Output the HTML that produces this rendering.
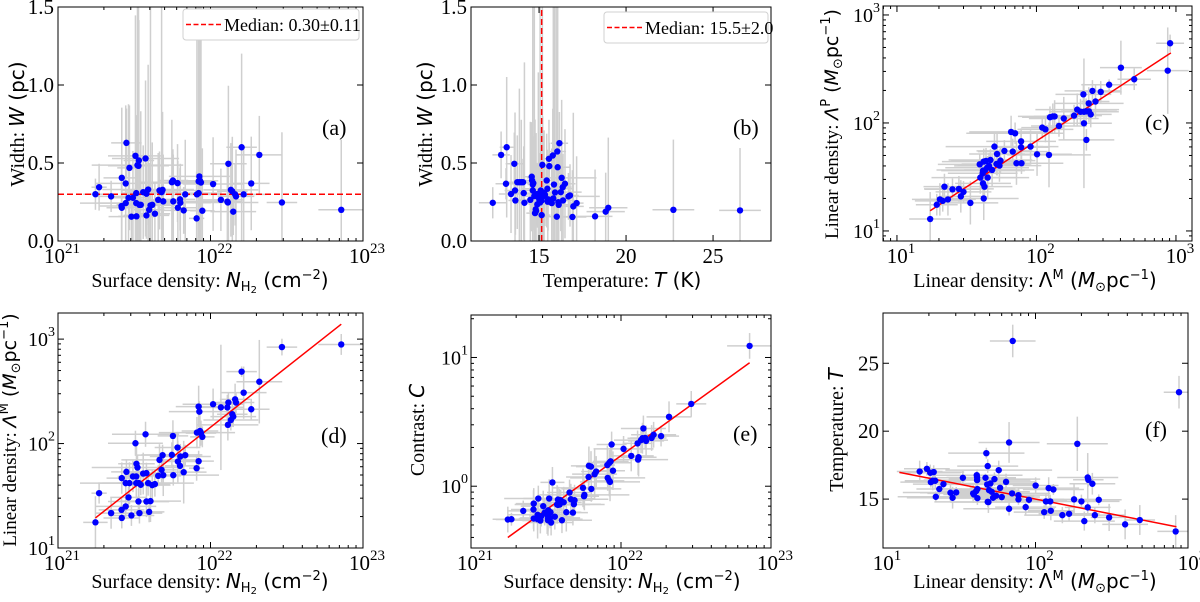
<!DOCTYPE html>
<html><head><meta charset="utf-8">
<style>
html,body{margin:0;padding:0;background:#fff;}
svg{display:block;}
text{font-family:"Liberation Serif",serif;fill:#000;}
.m{font-family:"DejaVu Sans","Liberation Sans",sans-serif;}
</style></head>
<body>
<svg id="fig" width="1200" height="602" viewBox="0 0 1200 602" xmlns="http://www.w3.org/2000/svg"></svg>
<script>
// ---------- shared data (surface density in 1e21 cm^-2) ----------
const nH2 = [1.76,1.86,2.23,2.62,2.61,2.62,2.78,2.81,2.78,2.90,2.94,3.03,3.10,3.22,3.26,3.26,3.27,3.32,3.39,3.42,3.37,3.49,3.62,3.75,3.80,3.80,3.90,3.96,4.04,4.15,4.32,4.54,4.63,4.78,4.85,4.90,5.58,5.67,5.70,6.08,6.11,6.31,6.34,6.67,6.83,8.11,8.15,8.36,8.36,8.45,8.53,8.66,8.84,10.4,11.7,12.9,13.1,13.0,13.6,13.9,14.1,14.5,14.7,16.0,16.5,18.5,20.9,29.4,72.0];
// panel (a) widths
const widthA = [0.30,0.345,0.286,0.405,0.224,0.213,0.369,0.629,0.243,0.277,0.469,0.156,0.277,0.546,0.307,0.243,0.158,0.486,0.516,0.232,0.482,0.232,0.313,0.529,0.303,0.164,0.330,0.200,0.228,0.232,0.175,0.264,0.324,0.313,0.328,0.254,0.377,0.388,0.254,0.371,0.213,0.267,0.245,0.196,0.299,0.145,0.299,0.382,0.307,0.414,0.386,0.375,0.194,0.365,0.264,0.252,0.495,0.247,0.328,0.318,0.188,0.299,0.286,0.601,0.299,0.369,0.552,0.247,0.200];
// panel (d) linear density (Msun/pc)
const lmD = [17.6,33.5,21.6,19.4,23.2,46.7,25.0,53.6,41.8,30.5,41.8,20.5,48.4,100.7,48.4,41.8,64.0,59.0,41.8,21.6,27.9,40.3,51.6,122.7,52.1,27.9,41.8,22.2,28.1,40.0,40.9,49.1,69.8,56.0,77.4,49.8,78.0,118.3,49.8,91.6,67.3,61.2,75.2,53.2,77.4,58.1,127.4,67.8,226,202,132,126,116,238,222,222,247,151,168,191,181,265,247,488,307,213,391,839,889];
// panel (e) contrast
const contrastE = [0.551,0.554,0.643,0.733,0.659,0.561,0.60,0.802,0.554,0.541,0.585,0.70,0.624,0.602,0.561,0.544,0.65,0.802,0.628,0.522,0.567,1.07,0.58,0.721,0.716,0.787,0.721,0.778,0.544,0.75,0.628,0.893,0.792,0.624,0.725,0.778,0.971,0.836,0.857,1.18,1.44,1.42,0.953,1.24,1.30,1.46,1.16,1.10,1.52,1.08,1.56,2.11,1.32,1.95,1.72,2.15,1.68,1.61,2.28,2.36,2.81,2.37,2.25,2.37,2.51,2.45,3.46,4.36,12.3];
// panel (b)
const tempB = [12.34,12.82,13.10,13.14,13.39,13.58,13.62,13.64,13.75,13.87,13.98,14.08,14.12,14.16,14.50,14.58,14.60,14.64,14.64,14.67,14.73,14.77,14.81,14.83,14.89,14.90,14.96,15.02,15.06,15.10,15.13,15.15,15.15,15.19,15.21,15.25,15.29,15.34,15.44,15.48,15.50,15.52,15.57,15.59,15.73,15.79,15.82,15.86,15.92,16.02,16.05,16.07,16.11,16.13,16.17,16.25,16.30,16.36,16.38,16.49,16.69,16.78,16.92,16.97,17.16,18.22,18.83,18.98,22.72,26.55];
const widthB = [0.245,0.552,0.367,0.601,0.301,0.495,0.324,0.260,0.377,0.377,0.377,0.377,0.307,0.245,0.264,0.412,0.388,0.362,0.324,0.371,0.288,0.179,0.203,0.192,0.301,0.235,0.281,0.264,0.247,0.324,0.303,0.260,0.166,0.488,0.299,0.288,0.309,0.296,0.388,0.335,0.252,0.267,0.527,0.480,0.243,0.548,0.273,0.362,0.311,0.156,0.574,0.473,0.249,0.232,0.627,0.313,0.405,0.345,0.260,0.367,0.286,0.292,0.154,0.222,0.243,0.158,0.188,0.213,0.200,0.196];
const medianW = 0.30, medianT = 15.15;
// panel (c)
const lmC = [17.3,19.3,20.3,21.3,21.9,23.2,25.0,27.8,28.7,30.0,33.6,39.2,39.6,41.2,41.4,41.4,41.9,41.9,42.4,43.0,43.5,44.3,44.7,45.7,46.8,48.1,50.0,51.7,52.2,54.3,55.2,58.9,65.8,67.6,70.3,71.9,77.6,77.6,78.1,90.7,101,110,116,123,125,131,135,145,157,186,196,207,217,219,219,227,228,237,238,245,252,265,289,332,403,502,873,908];
const lpC = [12.9,17.5,19.6,19.0,25.7,19.6,24.3,24.5,20.9,23.0,18.2,41.4,31.2,34.2,36.2,27.6,20.0,43.9,25.7,36.7,44.5,38.5,31.2,40.0,45.4,36.7,60.4,41.7,51.6,40.3,44.8,55.1,82.6,54.3,80.2,42.4,67.6,59.6,42.4,60.4,51.3,90.6,87.3,50.6,113,115,115,93.8,110,117,133,127,184,127,99.3,128,69.7,152,128,120,198,158,194,226,325,254,305,547];
// panel (f)
const lmF = [17.4,19.4,20.4,20.6,21.2,21.5,22.0,22.2,23.4,24.9,27.7,28.6,30.2,33.4,39.0,39.4,40.8,41.2,41.4,41.4,41.6,41.6,47.0,47.6,48.2,48.6,48.6,49.1,49.6,50.6,51.6,52.7,53.8,55.2,57.4,58.6,60.1,64.1,67.1,67.1,70.2,70.9,77.3,77.3,86.2,90.6,100.2,114,117,122,125,126,131,150,166,179,188,200,209,220,220,222,236,245,260,304,387,483,830,873];
const tempF = [17.03,17.23,16.94,16.25,16.35,16.99,16.35,15.17,15.74,16.10,15.47,15.10,15.49,16.57,15.42,15.34,15.59,16.76,16.59,16.40,15.74,15.07,16.57,18.38,16.08,17.43,14.80,14.78,15.66,16.15,15.54,15.10,16.47,15.25,17.13,15.83,15.15,16.27,14.29,19.17,15.42,26.64,15.29,14.98,14.41,14.95,16.00,14.04,14.83,15.81,14.83,14.14,15.71,13.82,13.92,14.98,19.07,14.83,13.38,14.39,16.59,16.42,16.13,13.82,14.95,13.65,13.14,13.46,12.62,22.87];
// fitted relations
const fitC = {slope:0.847, intercept:0.139, from:17.3, to:920};
const fitD = {slope:1.151, intercept:1.005, from:1.76, to:72};
const fitE = {slope:0.842, intercept:-0.605, from:1.76, to:72};
const fitF = {slope:-2.20, intercept:19.40, from:12.8, to:840};
// uncertainties
const nErrDex = [0.08,0.05,0.10,0.12,0.15,0.10,0.20,0.10,0.30,0.12,0.08,0.15,0.10,0.18,0.10,0.25,0.12,0.30,0.10,0.15,0.20,0.08,0.12,0.22,0.10,0.15,0.30,0.10,0.20,0.12,0.10,0.15,0.25,0.10,0.18,0.12,0.20,0.10,0.30,0.15,0.12,0.10,0.20,0.15,0.10,0.05,0.25,0.10,0.15,0.20,0.12,0.10,0.08,0.20,0.15,0.10,0.12,0.20,0.18,0.10,0.15,0.10,0.12,0.10,0.15,0.12,0.15,0.10,0.15];
const wErr = [0.10,0.15,0.10,0.45,0.25,0.20,0.50,0.22,0.30,0.60,0.40,0.15,0.30,0.90,0.50,0.35,0.20,1.20,0.90,0.30,1.50,0.60,0.30,0.50,0.20,0.15,0.80,0.30,1.30,0.40,0.20,0.30,0.25,1.40,0.50,0.30,0.40,0.20,0.30,0.25,0.30,0.20,0.25,0.15,0.35,0.30,1.50,1.60,1.50,1.60,1.50,1.20,0.40,0.30,0.20,0.25,0.50,0.20,0.30,0.35,0.15,0.20,0.30,0.60,0.30,0.30,0.25,0.45,0.45,0.40];
const tErr = [0.8,0.5,0.6,0.4,0.7,0.5,0.6,0.4,0.5,0.3,0.6,0.8,0.4,0.5,0.7,0.4,0.5,0.3,0.6,0.4,0.7,0.5,0.3,0.4,0.6,0.5,0.4,0.8,0.5,0.4,0.6,0.3,0.5,0.4,0.7,0.5,0.4,0.6,0.5,1.5,0.4,1.2,0.5,0.4,0.6,0.3,0.6,0.5,0.6,0.8,0.5,0.7,0.4,0.6,0.5,1.2,2.0,0.5,0.7,0.6,1.8,0.5,0.8,0.6,0.4,1.0,1.1,1.1,1.2,1.2];
const lmErrDex = [0.15,0.15,0.20,0.20,0.15,0.20,0.20,0.25,0.15,0.20,0.20,0.30,0.35,0.25,0.30,0.20,0.25,0.30,0.20,0.35,0.25,0.30,0.20,0.25,0.30,0.20,0.35,0.25,0.20,0.30,0.25,0.20,0.30,0.25,0.35,0.20,0.25,0.20,0.30,0.20,0.25,0.15,0.20,0.30,0.20,0.25,0.15,0.20,0.25,0.20,0.30,0.15,0.20,0.25,0.20,0.15,0.20,0.25,0.20,0.15,0.20,0.10,0.15,0.20,0.15,0.12,0.15,0.10,0.12,0.10];
const lpErrDex = [0.25,0.10,0.15,0.10,0.12,0.15,0.10,0.12,0.15,0.10,0.20,0.10,0.15,0.12,0.10,0.15,0.20,0.12,0.15,0.10,0.12,0.10,0.20,0.12,0.10,0.15,0.12,0.10,0.20,0.15,0.12,0.10,0.15,0.12,0.10,0.20,0.12,0.15,0.10,0.15,0.20,0.10,0.12,0.30,0.10,0.12,0.15,0.10,0.20,0.10,0.15,0.12,0.10,0.15,0.60,0.12,0.10,0.15,0.10,0.12,0.10,0.15,0.10,0.05,0.25,0.10,0.40,0.08];
const cErrDex = [0.10,0.05,0.08,0.12,0.15,0.10,0.12,0.10,0.15,0.10,0.08,0.12,0.10,0.15,0.10,0.12,0.10,0.15,0.12,0.10,0.08,0.12,0.10,0.15,0.12,0.10,0.12,0.08,0.10,0.12,0.15,0.10,0.12,0.10,0.08,0.12,0.15,0.10,0.12,0.10,0.15,0.12,0.10,0.20,0.12,0.15,0.10,0.12,0.10,0.15,0.12,0.10,0.15,0.10,0.12,0.10,0.15,0.12,0.10,0.12,0.10,0.08,0.12,0.10,0.10,0.08,0.12,0.10,0.10];

const NS='http://www.w3.org/2000/svg';
const fig=document.getElementById('fig');
function mk(tag,attrs,parent){const e=document.createElementNS(NS,tag);for(const k in attrs)e.setAttribute(k,attrs[k]);(parent||fig).appendChild(e);return e;}
const lg=Math.log10;

function scale(type,d0,d1,p0,p1){
  if(type==='log') return v=>p0+(lg(v)-d0)/(d1-d0)*(p1-p0);
  return v=>p0+(v-d0)/(d1-d0)*(p1-p0);
}

function makePanel(cfg){
  const g=mk('g',{});
  
  
  const [x0,x1]=cfg.px, [y0,y1]=cfg.py;
  const sx=scale(cfg.xt,cfg.xd[0],cfg.xd[1],x0,x1);
  const sy=scale(cfg.yt,cfg.yd[0],cfg.yd[1],y0,y1);
  const clip=mk('clipPath',{id:'clip'+cfg.id},g);
  mk('rect',{x:x0,y:y1,width:x1-x0,height:y0-y1},clip);
  const plot=mk('g',{'clip-path':'url(#clip'+cfg.id+')'},g);
  
  
  return {g,plot,sx,sy,x0,x1,y0,y1,cfg};
}

function ticks(P){
  const {g,sx,sy,x0,x1,y0,y1,cfg}=P;
  const tg=mk('g',{stroke:'#000','stroke-width':1},g);
  
  
  function axisTicks(type,dom,isX){
    const maj=[],min=[];
    if(type==='log'){
      for(let e=Math.floor(dom[0]);e<=Math.ceil(dom[1]);e++){
        if(e>=dom[0]-1e-6&&e<=dom[1]+1e-6)maj.push(Math.pow(10,e));
        for(let k=2;k<10;k++){const v=k*Math.pow(10,e);const l=lg(v);if(l>=dom[0]&&l<=dom[1])min.push(v);}
      }
    } else {
      for(const v of (isX?cfg.xMaj:cfg.yMaj))maj.push(v);
    }
    return {maj,min};
  }
  const xt=axisTicks(cfg.xt,cfg.xd,true), yt=axisTicks(cfg.yt,cfg.yd,false);
  xt.maj.forEach(v=>{const x=sx(v);mk('line',{x1:x,x2:x,y1:y0,y2:y0-6},tg);mk('line',{x1:x,x2:x,y1:y1,y2:y1+6},tg);});
  xt.min.forEach(v=>{const x=sx(v);mk('line',{x1:x,x2:x,y1:y0,y2:y0-3},tg);mk('line',{x1:x,x2:x,y1:y1,y2:y1+3},tg);});
  yt.maj.forEach(v=>{const y=sy(v);mk('line',{x1:x0,x2:x0+6,y1:y,y2:y},tg);mk('line',{x1:x1,x2:x1-6,y1:y,y2:y},tg);});
  yt.min.forEach(v=>{const y=sy(v);mk('line',{x1:x0,x2:x0+3,y1:y,y2:y},tg);mk('line',{x1:x1,x2:x1-3,y1:y,y2:y},tg);});
  xt.maj.forEach(v=>{
    const x=sx(v);
    const t=mk('text',{x:x,y:y0+22,'font-size':21,'text-anchor':'middle'},g);
    
    
    if(cfg.xt==='log'){t.setAttribute('x',x+4);t.textContent='10';const s=mk('tspan',{dy:-10,'font-size':15},t);s.textContent=String(Math.round(lg(v))+(cfg.xOff||0));}
    else t.textContent=cfg.xFmt(v);
  });
  yt.maj.forEach(v=>{
    const y=sy(v);
    const t=mk('text',{x:x0-4,y:y+7,'font-size':21,'text-anchor':'end'},g);
    
    
    if(cfg.yt==='log'){t.setAttribute('x',x0-3);t.setAttribute('font-size',20);t.textContent='10';const s=mk('tspan',{dy:-10,'font-size':14},t);s.textContent=String(Math.round(lg(v)));}
    else t.textContent=cfg.yFmt(v);
  });
  const fr=mk('rect',{x:x0,y:y1,width:x1-x0,height:y0-y1,fill:'none',stroke:'#000','stroke-width':1},g);
  
  
}

function errBars(P,xs,ys,xe,ye,xLogErr,yLogErr){
  const {plot,sx,sy}=P;
  const eg=mk('g',{stroke:'#cfcfcf','stroke-width':1.5},plot);
  
  
  for(let i=0;i<xs.length;i++){
    const x=xs[i],y=ys[i];const ex=xe[i]!==undefined?xe[i]:0.1, ey=ye[i]!==undefined?ye[i]:0.1;
    const xa=xLogErr?x/Math.pow(10,ex):x-ex, xb=xLogErr?x*Math.pow(10,ex):x+ex;
    const ya=yLogErr?y/Math.pow(10,ey):y-ey, yb=yLogErr?y*Math.pow(10,ey):y+ey;
    mk('line',{x1:sx(xa),x2:sx(xb),y1:sy(y),y2:sy(y)},eg);
    mk('line',{x1:sx(x),x2:sx(x),y1:sy(Math.max(ya,1e-9)),y2:sy(yb)},eg);
  }
}
function points(P,xs,ys){
  const {plot,sx,sy}=P;
  const pg=mk('g',{fill:'#0000ff'},plot);
  
  
  for(let i=0;i<xs.length;i++){
    const c=mk('circle',{cx:sx(xs[i]),cy:sy(ys[i]),r:3.2},pg);
    
    
  }
}
function fitLine(P,f,logY){
  const {plot,sx,sy}=P;
  const ev=x=>{const lx=lg(x);return logY?Math.pow(10,f.intercept+f.slope*lx):f.intercept+f.slope*lx;};
  const l=mk('line',{x1:sx(f.from),y1:sy(ev(f.from)),x2:sx(f.to),y2:sy(ev(f.to)),stroke:'#ff0000','stroke-width':1.5},plot);
  
  
}
function panelLabel(P,txt,x,y){
  const t=mk('text',{x:x,y:y,'font-size':22},P.g);t.textContent=txt;
  
  
}
function label(P,html,x,y,rot,name,fs){
  const t=mk('text',{x:x,y:y,'font-size':fs||20,'text-anchor':'middle'},P.g);
  if(rot)t.setAttribute('transform','rotate(-90 '+x+' '+y+')');
  t.innerHTML=html;
  
  
}
function legend(P,x,y,w,txt){
  const lgG=mk('g',{},P.g);
  
  
  mk('rect',{x:x,y:y,width:w,height:31,rx:3,fill:'#fff',stroke:'#d0d0d0'},lgG);
  mk('line',{x1:x+3,x2:x+39,y1:y+15.5,y2:y+15.5,stroke:'#ff0000','stroke-width':1.5,'stroke-dasharray':'5,2.5'},lgG);
  const t=mk('text',{x:x+41,y:y+22,'font-size':18},lgG);t.textContent=txt;
}

const NLAB='Surface density: <tspan class="m" font-style="italic">N</tspan><tspan class="m" font-size="13" dy="4">H</tspan><tspan class="m" font-size="10" dy="2">2</tspan><tspan class="m" dy="-6"> (cm</tspan><tspan class="m" font-size="13" dy="-8">−2</tspan><tspan class="m" dy="8">)</tspan>';
const LMLAB='Linear density: <tspan class="m">Λ</tspan><tspan class="m" font-size="13" dy="-8">M</tspan><tspan class="m" dy="8"> (</tspan><tspan class="m" font-style="italic">M</tspan><tspan class="m" font-size="13" dy="4">⊙</tspan><tspan class="m" dy="-4">pc</tspan><tspan class="m" font-size="13" dy="-8">−1</tspan><tspan class="m" dy="8">)</tspan>';
const LPLAB=LMLAB.replace('>M</tspan><tspan class="m" dy="8"> (','>P</tspan><tspan class="m" dy="8"> (');
const LMLAB_Y=LMLAB.replace('<tspan class="m">Λ</tspan>','<tspan class="m" font-style="italic">Λ</tspan>');
const WLAB='Width: <tspan class="m" font-style="italic">W</tspan><tspan class="m"> (pc)</tspan>';

// ---------- panel (a) ----------
let P=makePanel({id:'a',xt:'log',xd:[0,2],px:[58,363],yt:'lin',yd:[0,1.5],py:[241,7],yMaj:[0,0.5,1.0,1.5],yFmt:v=>v.toFixed(1),xOff:21});
errBars(P,nH2,widthA,nErrDex,wErr,true,false);
{const l=mk('line',{x1:P.x0,x2:P.x1,y1:P.sy(medianW),y2:P.sy(medianW),stroke:'#ff0000','stroke-width':1.5,'stroke-dasharray':'6,3'},P.plot);

}
points(P,nH2,widthA);
ticks(P);legend(P,183,9,176,'Median: 0.30±0.11');
panelLabel(P,'(a)',322,135);
label(P,NLAB,210,287,false,'x-axis-title');
label(P,WLAB,24,124,true,'y-axis-title');

// ---------- panel (b) ----------
P=makePanel({id:'b',xt:'lin',xd:[11.09,28.33],px:[471,771],yt:'lin',yd:[0,1.5],py:[241,7],xMaj:[15,20,25],xFmt:v=>String(v),yMaj:[0,0.5,1.0,1.5],yFmt:v=>v.toFixed(1)});
errBars(P,tempB,widthB,tErr,wErr,false,false);
{const l=mk('line',{x1:P.sx(medianT),x2:P.sx(medianT),y1:P.y0,y2:P.y1,stroke:'#ff0000','stroke-width':1.5,'stroke-dasharray':'6,3'},P.plot);

}
points(P,tempB,widthB);
ticks(P);legend(P,604,12,164,'Median: 15.5±2.0');
panelLabel(P,'(b)',733,135);
label(P,'Temperature: <tspan class="m" font-style="italic">T</tspan><tspan class="m"> (K)</tspan>',622,287,false,'x-axis-title');
label(P,WLAB,432,124,true,'y-axis-title');

// ---------- panel (c) ----------
P=makePanel({id:'c',xt:'log',xd:[0.9,3.115],px:[883,1192],yt:'log',yd:[0.907,3.083],py:[241,6]});
errBars(P,lmC,lpC,lmErrDex,lpErrDex,true,true);
fitLine(P,fitC,true);
points(P,lmC,lpC);
ticks(P);
panelLabel(P,'(c)',1145,130);
label(P,LMLAB,1035,287,false,'x-axis-title');
label(P,LPLAB.replace('<tspan class="m">Λ</tspan>','<tspan class="m" font-style="italic">Λ</tspan>'),838,124,true,'y-axis-title',19);

// ---------- panel (d) ----------
P=makePanel({id:'d',xt:'log',xd:[0,2],px:[58,363],yt:'log',yd:[1,3.25],py:[548,313],xOff:21});
errBars(P,nH2,lmD,nErrDex,lpErrDex,true,true);
fitLine(P,fitD,true);
points(P,nH2,lmD);
ticks(P);
panelLabel(P,'(d)',321,443);
label(P,NLAB,210,588,false,'x-axis-title');
label(P,LMLAB_Y,16,430,true,'y-axis-title',19);

// ---------- panel (e) ----------
P=makePanel({id:'e',xt:'log',xd:[0,2],px:[471,771],yt:'log',yd:[-0.48,1.33],py:[548,315],xOff:21});
errBars(P,nH2,contrastE,nErrDex,cErrDex,true,true);
fitLine(P,fitE,true);
points(P,nH2,contrastE);
ticks(P);
panelLabel(P,'(e)',733,441);
label(P,NLAB,622,588,false,'x-axis-title');
label(P,'Contrast: <tspan class="m" font-style="italic">C</tspan>',424,430,true,'y-axis-title');

// ---------- panel (f) ----------
P=makePanel({id:'f',xt:'log',xd:[1,3],px:[883,1188],yt:'lin',yd:[11.4,28.7],py:[548,313],yMaj:[15,20,25],yFmt:v=>String(v)});
errBars(P,lmF,tempF,lmErrDex,tErr,true,false);
fitLine(P,fitF,false);
points(P,lmF,tempF);
ticks(P);
panelLabel(P,'(f)',1145,437);
label(P,LMLAB,1035,588,false,'x-axis-title');
label(P,'Temperature: <tspan class="m" font-style="italic">T</tspan>',843,430,true,'y-axis-title');
</script>
</body></html>
